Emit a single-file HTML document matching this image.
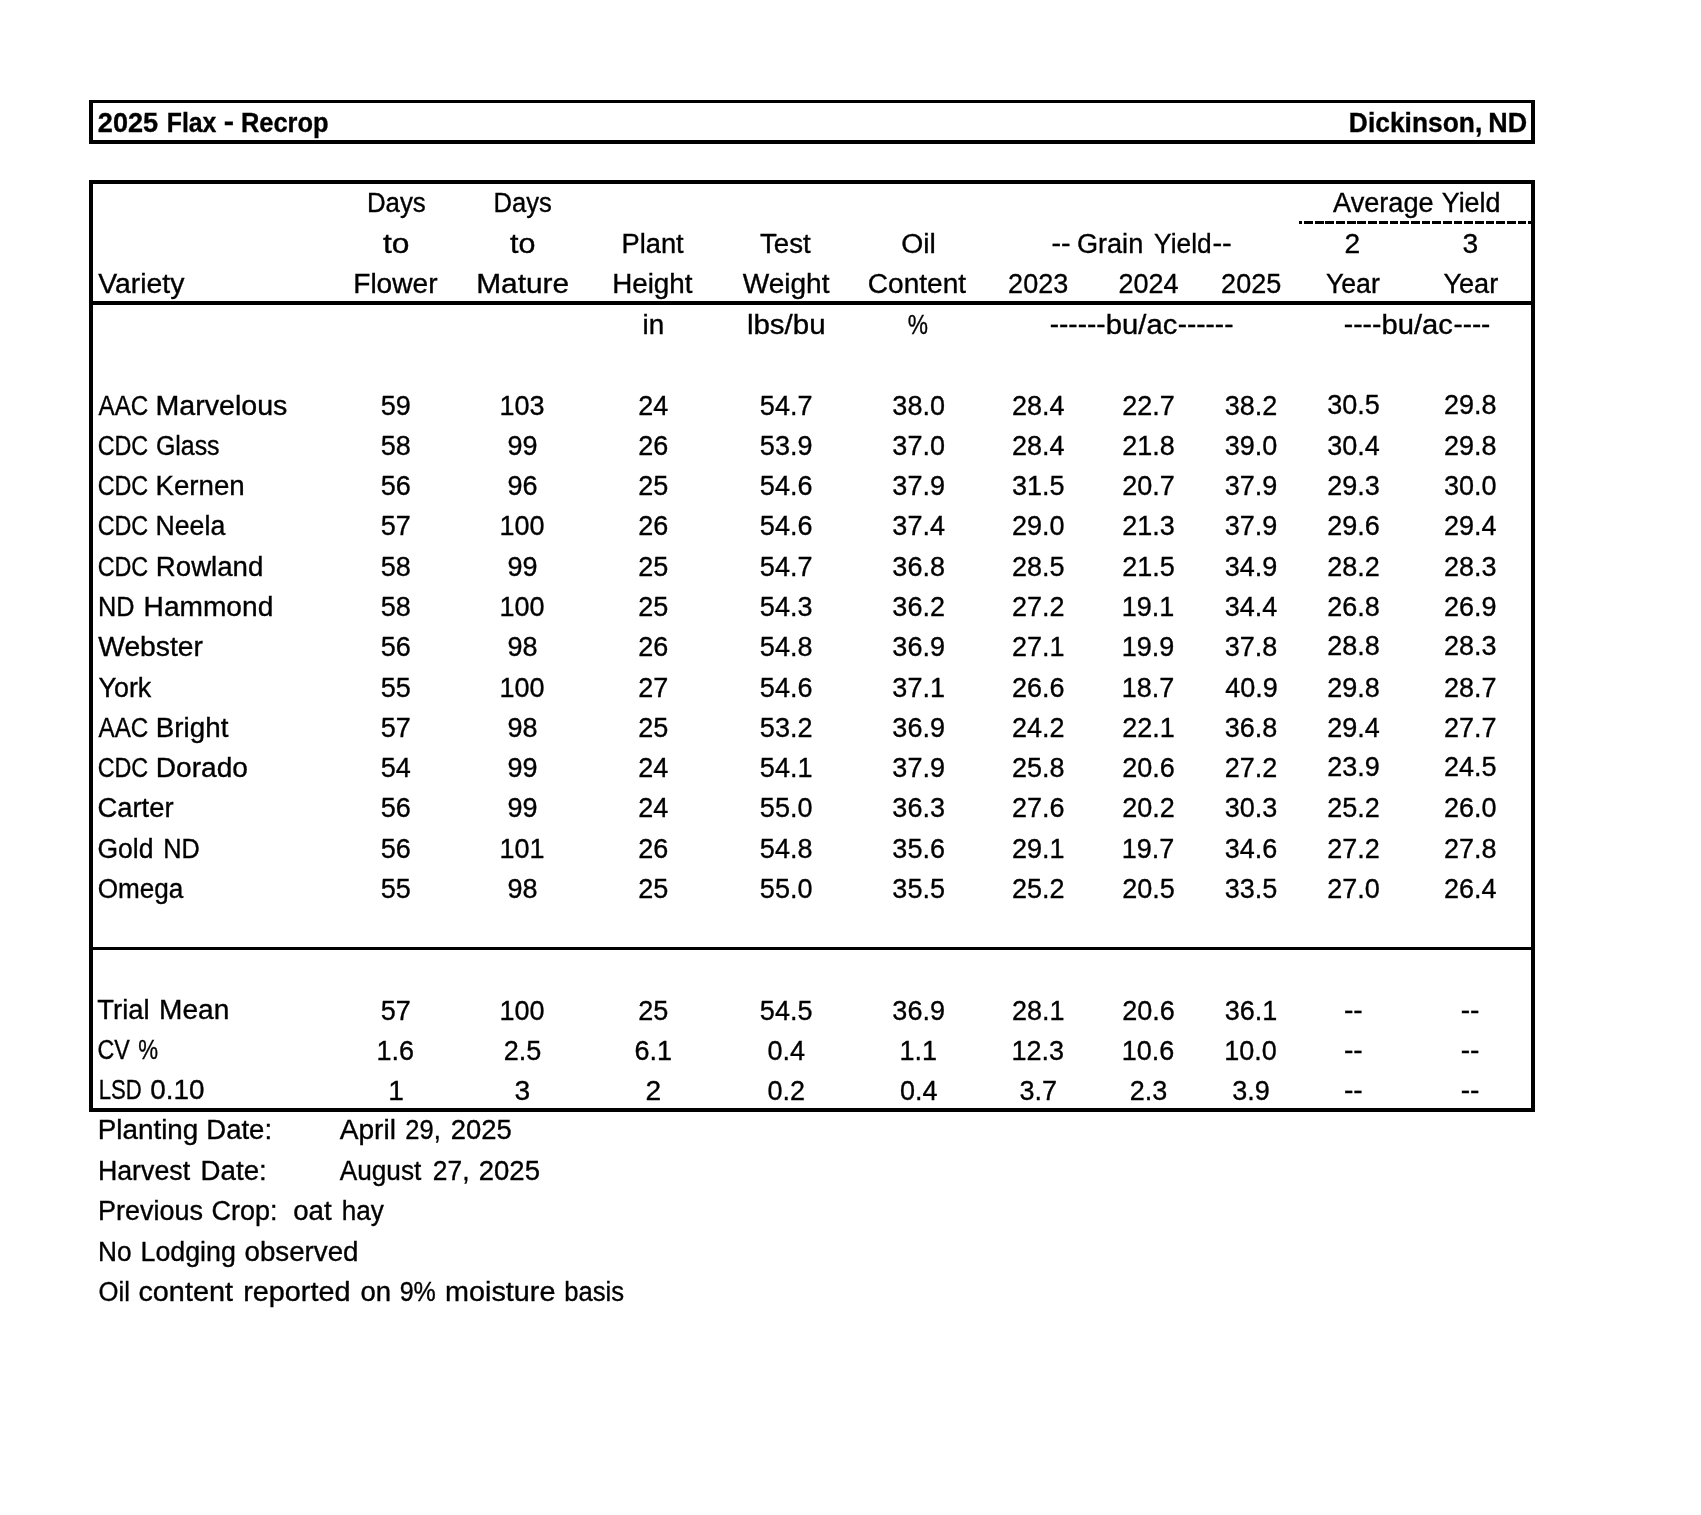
<!DOCTYPE html>
<html><head><meta charset="utf-8"><title>2025 Flax - Recrop</title>
<style>
html,body{margin:0;padding:0;background:#fff;}
body{width:1701px;height:1515px;position:relative;overflow:hidden;font-family:"Liberation Sans",sans-serif;color:#000;}
.t{position:absolute;white-space:pre;font-size:27px;line-height:40px;height:40px;transform-origin:0 0;-webkit-text-stroke:0.35px #000;}
.b{font-weight:bold;}
.r{position:absolute;background:#000;}
#w{position:absolute;left:0;top:0;width:1701px;height:1515px;filter:grayscale(1);}
</style></head><body><div id="w">
<div class="r" style="left:89px;top:100px;width:1446px;height:3.3px"></div>
<div class="r" style="left:89px;top:140px;width:1446px;height:3.7px"></div>
<div class="r" style="left:89px;top:100px;width:4.1px;height:43.7px"></div>
<div class="r" style="left:1531px;top:100px;width:4.1px;height:43.7px"></div>
<div class="r" style="left:89px;top:180.2px;width:1446px;height:4px"></div>
<div class="r" style="left:89px;top:1108px;width:1446px;height:3.9px"></div>
<div class="r" style="left:89px;top:180.2px;width:4.1px;height:931.7px"></div>
<div class="r" style="left:1531px;top:180.2px;width:4.1px;height:931.7px"></div>
<div class="r" style="left:89px;top:301px;width:1446px;height:3.8px"></div>
<div class="r" style="left:89px;top:947px;width:1446px;height:3px"></div>
<div style="position:absolute;left:1298.8px;top:221px;width:232.3px;height:3.1px;background:repeating-linear-gradient(90deg,#000 0,#000 3.2px,transparent 3.2px,transparent 5.1px,#000 5.1px,#000 10.68px)"></div>
<div class="t b" style="left:0;top:103.00px;transform:translateX(97.85px) scaleX(1.0042);">2025</div>
<div class="t b" style="left:0;top:103.00px;transform:translateX(166.73px) scaleX(0.9187);">Flax</div>
<div class="t b" style="left:0;top:102.00px;transform:translateX(223.76px) scaleX(1.1429);">-</div>
<div class="t b" style="left:0;top:103.00px;transform:translateX(240.91px) scaleX(0.9418);">Recrop</div>
<div class="t b" style="left:0;top:103.00px;transform:translateX(1348.87px) scaleX(0.9767);">Dickinson,</div>
<div class="t b" style="left:0;top:103.00px;transform:translateX(1488.36px) scaleX(0.9947);">ND</div>
<div class="t" style="left:0;top:183.00px;transform:translateX(366.89px) scaleX(0.9574);">Days</div>
<div class="t" style="left:0;top:183.00px;transform:translateX(493.51px) scaleX(0.9472);">Days</div>
<div class="t" style="left:0;top:183.00px;transform:translateX(1333.10px) scaleX(1.0044);">Average</div>
<div class="t" style="left:0;top:183.00px;transform:translateX(1441.70px) scaleX(0.9962);">Yield</div>
<div class="t" style="left:0;top:224.00px;transform:translateX(383.00px) scaleX(1.1767);">to</div>
<div class="t" style="left:0;top:224.00px;transform:translateX(510.00px) scaleX(1.1302);">to</div>
<div class="t" style="left:0;top:224.00px;transform:translateX(621.58px) scaleX(1.0093);">Plant</div>
<div class="t" style="left:0;top:224.00px;transform:translateX(760.00px) scaleX(1.0237);">Test</div>
<div class="t" style="left:0;top:224.00px;transform:translateX(901.25px) scaleX(1.0484);">Oil</div>
<div class="t" style="left:0;top:223.00px;transform:translateX(1051.44px) scaleX(1.0631);">--</div>
<div class="t" style="left:0;top:224.00px;transform:translateX(1076.90px) scaleX(1.0046);">Grain</div>
<div class="t" style="left:0;top:224.00px;transform:translateX(1154.10px) scaleX(0.9738);">Yield</div>
<div class="t" style="left:0;top:223.00px;transform:translateX(1212.42px) scaleX(1.0756);">--</div>
<div class="t" style="left:1344.60px;top:223.00px;font-size:28.2px;">2</div>
<div class="t" style="left:1462.60px;top:223.00px;font-size:28.2px;">3</div>
<div class="t" style="left:0;top:264.00px;transform:translateX(98.20px) scaleX(1.0505);">Variety</div>
<div class="t" style="left:0;top:264.00px;transform:translateX(353.22px) scaleX(1.0402);">Flower</div>
<div class="t" style="left:0;top:264.00px;transform:translateX(476.19px) scaleX(1.1060);">Mature</div>
<div class="t" style="left:0;top:264.00px;transform:translateX(612.14px) scaleX(1.0295);">Height</div>
<div class="t" style="left:0;top:264.00px;transform:translateX(742.80px) scaleX(1.0376);">Weight</div>
<div class="t" style="left:0;top:264.00px;transform:translateX(867.86px) scaleX(1.0386);">Content</div>
<div class="t" style="left:0;top:263.00px;transform:translateX(1008.11px) scaleX(0.9580);font-size:28.2px;">2023</div>
<div class="t" style="left:0;top:263.00px;transform:translateX(1118.41px) scaleX(0.9580);font-size:28.2px;">2024</div>
<div class="t" style="left:0;top:263.00px;transform:translateX(1221.11px) scaleX(0.9580);font-size:28.2px;">2025</div>
<div class="t" style="left:0;top:264.00px;transform:translateX(1325.90px) scaleX(0.9879);">Year</div>
<div class="t" style="left:0;top:264.00px;transform:translateX(1443.40px) scaleX(1.0044);">Year</div>
<div class="t" style="left:0;top:305.00px;transform:translateX(642.57px) scaleX(1.0317);">in</div>
<div class="t" style="left:0;top:305.00px;transform:translateX(746.91px) scaleX(1.0924);">lbs/bu</div>
<div class="t" style="left:0;top:305.00px;transform:translateX(907.80px) scaleX(0.8417);">%</div>
<div class="t" style="left:0;top:304.00px;transform:translateX(1049.77px) scaleX(1.0336);">------</div>
<div class="t" style="left:0;top:305.00px;transform:translateX(1105.82px) scaleX(1.0813);">bu/ac</div>
<div class="t" style="left:0;top:304.00px;transform:translateX(1177.77px) scaleX(1.0316);">------</div>
<div class="t" style="left:0;top:304.00px;transform:translateX(1343.76px) scaleX(1.0449);">----</div>
<div class="t" style="left:0;top:305.00px;transform:translateX(1381.52px) scaleX(1.0813);">bu/ac</div>
<div class="t" style="left:0;top:304.00px;transform:translateX(1453.48px) scaleX(1.0243);">----</div>
<div class="t" style="left:0;top:386.00px;transform:translateX(98.50px) scaleX(0.8961);">AAC</div>
<div class="t" style="left:0;top:386.00px;transform:translateX(155.48px) scaleX(1.0594);">Marvelous</div>
<div class="t" style="left:0;top:385.00px;transform:translateX(380.73px) scaleX(0.9580);font-size:28.2px;">59</div>
<div class="t" style="left:0;top:385.00px;transform:translateX(499.44px) scaleX(0.9580);font-size:28.2px;">103</div>
<div class="t" style="left:0;top:385.00px;transform:translateX(638.33px) scaleX(0.9580);font-size:28.2px;">24</div>
<div class="t" style="left:0;top:385.00px;transform:translateX(759.87px) scaleX(0.9580);font-size:28.2px;">54.7</div>
<div class="t" style="left:0;top:385.00px;transform:translateX(892.37px) scaleX(0.9580);font-size:28.2px;">38.0</div>
<div class="t" style="left:0;top:385.00px;transform:translateX(1011.97px) scaleX(0.9580);font-size:28.2px;">28.4</div>
<div class="t" style="left:0;top:385.00px;transform:translateX(1122.17px) scaleX(0.9580);font-size:28.2px;">22.7</div>
<div class="t" style="left:0;top:385.00px;transform:translateX(1224.77px) scaleX(0.9580);font-size:28.2px;">38.2</div>
<div class="t" style="left:0;top:384.00px;transform:translateX(1327.17px) scaleX(0.9580);font-size:28.2px;">30.5</div>
<div class="t" style="left:0;top:384.00px;transform:translateX(1443.97px) scaleX(0.9580);font-size:28.2px;">29.8</div>
<div class="t" style="left:0;top:426.00px;transform:translateX(97.64px) scaleX(0.8650);">CDC</div>
<div class="t" style="left:0;top:426.00px;transform:translateX(155.88px) scaleX(0.9227);">Glass</div>
<div class="t" style="left:0;top:425.00px;transform:translateX(380.73px) scaleX(0.9580);font-size:28.2px;">58</div>
<div class="t" style="left:0;top:425.00px;transform:translateX(507.43px) scaleX(0.9580);font-size:28.2px;">99</div>
<div class="t" style="left:0;top:425.00px;transform:translateX(638.33px) scaleX(0.9580);font-size:28.2px;">26</div>
<div class="t" style="left:0;top:425.00px;transform:translateX(759.87px) scaleX(0.9580);font-size:28.2px;">53.9</div>
<div class="t" style="left:0;top:425.00px;transform:translateX(892.37px) scaleX(0.9580);font-size:28.2px;">37.0</div>
<div class="t" style="left:0;top:425.00px;transform:translateX(1011.97px) scaleX(0.9580);font-size:28.2px;">28.4</div>
<div class="t" style="left:0;top:425.00px;transform:translateX(1122.17px) scaleX(0.9580);font-size:28.2px;">21.8</div>
<div class="t" style="left:0;top:425.00px;transform:translateX(1224.77px) scaleX(0.9580);font-size:28.2px;">39.0</div>
<div class="t" style="left:0;top:425.00px;transform:translateX(1327.17px) scaleX(0.9580);font-size:28.2px;">30.4</div>
<div class="t" style="left:0;top:425.00px;transform:translateX(1443.97px) scaleX(0.9580);font-size:28.2px;">29.8</div>
<div class="t" style="left:0;top:466.00px;transform:translateX(97.64px) scaleX(0.8650);">CDC</div>
<div class="t" style="left:0;top:466.00px;transform:translateX(155.45px) scaleX(1.0256);">Kernen</div>
<div class="t" style="left:0;top:465.00px;transform:translateX(380.73px) scaleX(0.9580);font-size:28.2px;">56</div>
<div class="t" style="left:0;top:465.00px;transform:translateX(507.43px) scaleX(0.9580);font-size:28.2px;">96</div>
<div class="t" style="left:0;top:465.00px;transform:translateX(638.33px) scaleX(0.9580);font-size:28.2px;">25</div>
<div class="t" style="left:0;top:465.00px;transform:translateX(759.87px) scaleX(0.9580);font-size:28.2px;">54.6</div>
<div class="t" style="left:0;top:465.00px;transform:translateX(892.37px) scaleX(0.9580);font-size:28.2px;">37.9</div>
<div class="t" style="left:0;top:465.00px;transform:translateX(1011.97px) scaleX(0.9580);font-size:28.2px;">31.5</div>
<div class="t" style="left:0;top:465.00px;transform:translateX(1122.17px) scaleX(0.9580);font-size:28.2px;">20.7</div>
<div class="t" style="left:0;top:465.00px;transform:translateX(1224.77px) scaleX(0.9580);font-size:28.2px;">37.9</div>
<div class="t" style="left:0;top:465.00px;transform:translateX(1327.17px) scaleX(0.9580);font-size:28.2px;">29.3</div>
<div class="t" style="left:0;top:465.00px;transform:translateX(1443.97px) scaleX(0.9580);font-size:28.2px;">30.0</div>
<div class="t" style="left:0;top:506.00px;transform:translateX(97.64px) scaleX(0.8650);">CDC</div>
<div class="t" style="left:0;top:506.00px;transform:translateX(155.52px) scaleX(0.9881);">Neela</div>
<div class="t" style="left:0;top:505.00px;transform:translateX(380.73px) scaleX(0.9580);font-size:28.2px;">57</div>
<div class="t" style="left:0;top:505.00px;transform:translateX(499.44px) scaleX(0.9580);font-size:28.2px;">100</div>
<div class="t" style="left:0;top:505.00px;transform:translateX(638.33px) scaleX(0.9580);font-size:28.2px;">26</div>
<div class="t" style="left:0;top:505.00px;transform:translateX(759.87px) scaleX(0.9580);font-size:28.2px;">54.6</div>
<div class="t" style="left:0;top:505.00px;transform:translateX(892.37px) scaleX(0.9580);font-size:28.2px;">37.4</div>
<div class="t" style="left:0;top:505.00px;transform:translateX(1011.97px) scaleX(0.9580);font-size:28.2px;">29.0</div>
<div class="t" style="left:0;top:505.00px;transform:translateX(1122.17px) scaleX(0.9580);font-size:28.2px;">21.3</div>
<div class="t" style="left:0;top:505.00px;transform:translateX(1224.77px) scaleX(0.9580);font-size:28.2px;">37.9</div>
<div class="t" style="left:0;top:505.00px;transform:translateX(1327.17px) scaleX(0.9580);font-size:28.2px;">29.6</div>
<div class="t" style="left:0;top:505.00px;transform:translateX(1443.97px) scaleX(0.9580);font-size:28.2px;">29.4</div>
<div class="t" style="left:0;top:547.00px;transform:translateX(97.64px) scaleX(0.8650);">CDC</div>
<div class="t" style="left:0;top:547.00px;transform:translateX(155.86px) scaleX(1.0221);">Rowland</div>
<div class="t" style="left:0;top:546.00px;transform:translateX(380.73px) scaleX(0.9580);font-size:28.2px;">58</div>
<div class="t" style="left:0;top:546.00px;transform:translateX(507.43px) scaleX(0.9580);font-size:28.2px;">99</div>
<div class="t" style="left:0;top:546.00px;transform:translateX(638.33px) scaleX(0.9580);font-size:28.2px;">25</div>
<div class="t" style="left:0;top:546.00px;transform:translateX(759.87px) scaleX(0.9580);font-size:28.2px;">54.7</div>
<div class="t" style="left:0;top:546.00px;transform:translateX(892.37px) scaleX(0.9580);font-size:28.2px;">36.8</div>
<div class="t" style="left:0;top:546.00px;transform:translateX(1011.97px) scaleX(0.9580);font-size:28.2px;">28.5</div>
<div class="t" style="left:0;top:546.00px;transform:translateX(1122.17px) scaleX(0.9580);font-size:28.2px;">21.5</div>
<div class="t" style="left:0;top:546.00px;transform:translateX(1224.77px) scaleX(0.9580);font-size:28.2px;">34.9</div>
<div class="t" style="left:0;top:546.00px;transform:translateX(1327.17px) scaleX(0.9580);font-size:28.2px;">28.2</div>
<div class="t" style="left:0;top:546.00px;transform:translateX(1443.97px) scaleX(0.9580);font-size:28.2px;">28.3</div>
<div class="t" style="left:0;top:587.00px;transform:translateX(98.03px) scaleX(0.9370);">ND</div>
<div class="t" style="left:0;top:587.00px;transform:translateX(143.62px) scaleX(1.0409);">Hammond</div>
<div class="t" style="left:0;top:586.00px;transform:translateX(380.73px) scaleX(0.9580);font-size:28.2px;">58</div>
<div class="t" style="left:0;top:586.00px;transform:translateX(499.44px) scaleX(0.9580);font-size:28.2px;">100</div>
<div class="t" style="left:0;top:586.00px;transform:translateX(638.33px) scaleX(0.9580);font-size:28.2px;">25</div>
<div class="t" style="left:0;top:586.00px;transform:translateX(759.87px) scaleX(0.9580);font-size:28.2px;">54.3</div>
<div class="t" style="left:0;top:586.00px;transform:translateX(892.37px) scaleX(0.9580);font-size:28.2px;">36.2</div>
<div class="t" style="left:0;top:586.00px;transform:translateX(1011.97px) scaleX(0.9580);font-size:28.2px;">27.2</div>
<div class="t" style="left:0;top:586.00px;transform:translateX(1121.69px) scaleX(0.9580);font-size:28.2px;">19.1</div>
<div class="t" style="left:0;top:586.00px;transform:translateX(1224.77px) scaleX(0.9580);font-size:28.2px;">34.4</div>
<div class="t" style="left:0;top:586.00px;transform:translateX(1327.17px) scaleX(0.9580);font-size:28.2px;">26.8</div>
<div class="t" style="left:0;top:586.00px;transform:translateX(1443.97px) scaleX(0.9580);font-size:28.2px;">26.9</div>
<div class="t" style="left:0;top:627.00px;transform:translateX(98.20px) scaleX(1.0475);">Webster</div>
<div class="t" style="left:0;top:626.00px;transform:translateX(380.73px) scaleX(0.9580);font-size:28.2px;">56</div>
<div class="t" style="left:0;top:626.00px;transform:translateX(507.43px) scaleX(0.9580);font-size:28.2px;">98</div>
<div class="t" style="left:0;top:626.00px;transform:translateX(638.33px) scaleX(0.9580);font-size:28.2px;">26</div>
<div class="t" style="left:0;top:626.00px;transform:translateX(759.87px) scaleX(0.9580);font-size:28.2px;">54.8</div>
<div class="t" style="left:0;top:626.00px;transform:translateX(892.37px) scaleX(0.9580);font-size:28.2px;">36.9</div>
<div class="t" style="left:0;top:626.00px;transform:translateX(1011.97px) scaleX(0.9580);font-size:28.2px;">27.1</div>
<div class="t" style="left:0;top:626.00px;transform:translateX(1121.69px) scaleX(0.9580);font-size:28.2px;">19.9</div>
<div class="t" style="left:0;top:626.00px;transform:translateX(1224.77px) scaleX(0.9580);font-size:28.2px;">37.8</div>
<div class="t" style="left:0;top:625.00px;transform:translateX(1327.17px) scaleX(0.9580);font-size:28.2px;">28.8</div>
<div class="t" style="left:0;top:625.00px;transform:translateX(1443.97px) scaleX(0.9580);font-size:28.2px;">28.3</div>
<div class="t" style="left:0;top:668.00px;transform:translateX(98.50px) scaleX(0.9956);">York</div>
<div class="t" style="left:0;top:667.00px;transform:translateX(380.73px) scaleX(0.9580);font-size:28.2px;">55</div>
<div class="t" style="left:0;top:667.00px;transform:translateX(499.44px) scaleX(0.9580);font-size:28.2px;">100</div>
<div class="t" style="left:0;top:667.00px;transform:translateX(638.33px) scaleX(0.9580);font-size:28.2px;">27</div>
<div class="t" style="left:0;top:667.00px;transform:translateX(759.87px) scaleX(0.9580);font-size:28.2px;">54.6</div>
<div class="t" style="left:0;top:667.00px;transform:translateX(892.37px) scaleX(0.9580);font-size:28.2px;">37.1</div>
<div class="t" style="left:0;top:667.00px;transform:translateX(1011.97px) scaleX(0.9580);font-size:28.2px;">26.6</div>
<div class="t" style="left:0;top:667.00px;transform:translateX(1121.69px) scaleX(0.9580);font-size:28.2px;">18.7</div>
<div class="t" style="left:0;top:667.00px;transform:translateX(1225.25px) scaleX(0.9580);font-size:28.2px;">40.9</div>
<div class="t" style="left:0;top:667.00px;transform:translateX(1327.17px) scaleX(0.9580);font-size:28.2px;">29.8</div>
<div class="t" style="left:0;top:667.00px;transform:translateX(1443.97px) scaleX(0.9580);font-size:28.2px;">28.7</div>
<div class="t" style="left:0;top:708.00px;transform:translateX(98.50px) scaleX(0.8961);">AAC</div>
<div class="t" style="left:0;top:708.00px;transform:translateX(155.84px) scaleX(1.0285);">Bright</div>
<div class="t" style="left:0;top:707.00px;transform:translateX(380.73px) scaleX(0.9580);font-size:28.2px;">57</div>
<div class="t" style="left:0;top:707.00px;transform:translateX(507.43px) scaleX(0.9580);font-size:28.2px;">98</div>
<div class="t" style="left:0;top:707.00px;transform:translateX(638.33px) scaleX(0.9580);font-size:28.2px;">25</div>
<div class="t" style="left:0;top:707.00px;transform:translateX(759.87px) scaleX(0.9580);font-size:28.2px;">53.2</div>
<div class="t" style="left:0;top:707.00px;transform:translateX(892.37px) scaleX(0.9580);font-size:28.2px;">36.9</div>
<div class="t" style="left:0;top:707.00px;transform:translateX(1011.97px) scaleX(0.9580);font-size:28.2px;">24.2</div>
<div class="t" style="left:0;top:707.00px;transform:translateX(1122.17px) scaleX(0.9580);font-size:28.2px;">22.1</div>
<div class="t" style="left:0;top:707.00px;transform:translateX(1224.77px) scaleX(0.9580);font-size:28.2px;">36.8</div>
<div class="t" style="left:0;top:707.00px;transform:translateX(1327.17px) scaleX(0.9580);font-size:28.2px;">29.4</div>
<div class="t" style="left:0;top:707.00px;transform:translateX(1443.97px) scaleX(0.9580);font-size:28.2px;">27.7</div>
<div class="t" style="left:0;top:748.00px;transform:translateX(97.64px) scaleX(0.8650);">CDC</div>
<div class="t" style="left:0;top:748.00px;transform:translateX(155.82px) scaleX(1.0393);">Dorado</div>
<div class="t" style="left:0;top:747.00px;transform:translateX(380.73px) scaleX(0.9580);font-size:28.2px;">54</div>
<div class="t" style="left:0;top:747.00px;transform:translateX(507.43px) scaleX(0.9580);font-size:28.2px;">99</div>
<div class="t" style="left:0;top:747.00px;transform:translateX(638.33px) scaleX(0.9580);font-size:28.2px;">24</div>
<div class="t" style="left:0;top:747.00px;transform:translateX(759.87px) scaleX(0.9580);font-size:28.2px;">54.1</div>
<div class="t" style="left:0;top:747.00px;transform:translateX(892.37px) scaleX(0.9580);font-size:28.2px;">37.9</div>
<div class="t" style="left:0;top:747.00px;transform:translateX(1011.97px) scaleX(0.9580);font-size:28.2px;">25.8</div>
<div class="t" style="left:0;top:747.00px;transform:translateX(1122.17px) scaleX(0.9580);font-size:28.2px;">20.6</div>
<div class="t" style="left:0;top:747.00px;transform:translateX(1224.77px) scaleX(0.9580);font-size:28.2px;">27.2</div>
<div class="t" style="left:0;top:746.00px;transform:translateX(1327.17px) scaleX(0.9580);font-size:28.2px;">23.9</div>
<div class="t" style="left:0;top:746.00px;transform:translateX(1443.97px) scaleX(0.9580);font-size:28.2px;">24.5</div>
<div class="t" style="left:0;top:788.00px;transform:translateX(97.49px) scaleX(1.0132);">Carter</div>
<div class="t" style="left:0;top:787.00px;transform:translateX(380.73px) scaleX(0.9580);font-size:28.2px;">56</div>
<div class="t" style="left:0;top:787.00px;transform:translateX(507.43px) scaleX(0.9580);font-size:28.2px;">99</div>
<div class="t" style="left:0;top:787.00px;transform:translateX(638.33px) scaleX(0.9580);font-size:28.2px;">24</div>
<div class="t" style="left:0;top:787.00px;transform:translateX(759.87px) scaleX(0.9580);font-size:28.2px;">55.0</div>
<div class="t" style="left:0;top:787.00px;transform:translateX(892.37px) scaleX(0.9580);font-size:28.2px;">36.3</div>
<div class="t" style="left:0;top:787.00px;transform:translateX(1011.97px) scaleX(0.9580);font-size:28.2px;">27.6</div>
<div class="t" style="left:0;top:787.00px;transform:translateX(1122.17px) scaleX(0.9580);font-size:28.2px;">20.2</div>
<div class="t" style="left:0;top:787.00px;transform:translateX(1224.77px) scaleX(0.9580);font-size:28.2px;">30.3</div>
<div class="t" style="left:0;top:787.00px;transform:translateX(1327.17px) scaleX(0.9580);font-size:28.2px;">25.2</div>
<div class="t" style="left:0;top:787.00px;transform:translateX(1443.97px) scaleX(0.9580);font-size:28.2px;">26.0</div>
<div class="t" style="left:0;top:829.00px;transform:translateX(97.52px) scaleX(0.9797);">Gold</div>
<div class="t" style="left:0;top:829.00px;transform:translateX(163.23px) scaleX(0.9370);">ND</div>
<div class="t" style="left:0;top:828.00px;transform:translateX(380.73px) scaleX(0.9580);font-size:28.2px;">56</div>
<div class="t" style="left:0;top:828.00px;transform:translateX(499.44px) scaleX(0.9580);font-size:28.2px;">101</div>
<div class="t" style="left:0;top:828.00px;transform:translateX(638.33px) scaleX(0.9580);font-size:28.2px;">26</div>
<div class="t" style="left:0;top:828.00px;transform:translateX(759.87px) scaleX(0.9580);font-size:28.2px;">54.8</div>
<div class="t" style="left:0;top:828.00px;transform:translateX(892.37px) scaleX(0.9580);font-size:28.2px;">35.6</div>
<div class="t" style="left:0;top:828.00px;transform:translateX(1011.97px) scaleX(0.9580);font-size:28.2px;">29.1</div>
<div class="t" style="left:0;top:828.00px;transform:translateX(1121.69px) scaleX(0.9580);font-size:28.2px;">19.7</div>
<div class="t" style="left:0;top:828.00px;transform:translateX(1224.77px) scaleX(0.9580);font-size:28.2px;">34.6</div>
<div class="t" style="left:0;top:828.00px;transform:translateX(1327.17px) scaleX(0.9580);font-size:28.2px;">27.2</div>
<div class="t" style="left:0;top:828.00px;transform:translateX(1443.97px) scaleX(0.9580);font-size:28.2px;">27.8</div>
<div class="t" style="left:0;top:869.00px;transform:translateX(97.63px) scaleX(0.9681);">Omega</div>
<div class="t" style="left:0;top:868.00px;transform:translateX(380.73px) scaleX(0.9580);font-size:28.2px;">55</div>
<div class="t" style="left:0;top:868.00px;transform:translateX(507.43px) scaleX(0.9580);font-size:28.2px;">98</div>
<div class="t" style="left:0;top:868.00px;transform:translateX(638.33px) scaleX(0.9580);font-size:28.2px;">25</div>
<div class="t" style="left:0;top:868.00px;transform:translateX(759.87px) scaleX(0.9580);font-size:28.2px;">55.0</div>
<div class="t" style="left:0;top:868.00px;transform:translateX(892.37px) scaleX(0.9580);font-size:28.2px;">35.5</div>
<div class="t" style="left:0;top:868.00px;transform:translateX(1011.97px) scaleX(0.9580);font-size:28.2px;">25.2</div>
<div class="t" style="left:0;top:868.00px;transform:translateX(1122.17px) scaleX(0.9580);font-size:28.2px;">20.5</div>
<div class="t" style="left:0;top:868.00px;transform:translateX(1224.77px) scaleX(0.9580);font-size:28.2px;">33.5</div>
<div class="t" style="left:0;top:868.00px;transform:translateX(1327.17px) scaleX(0.9580);font-size:28.2px;">27.0</div>
<div class="t" style="left:0;top:868.00px;transform:translateX(1443.97px) scaleX(0.9580);font-size:28.2px;">26.4</div>
<div class="t" style="left:0;top:990.00px;transform:translateX(97.30px) scaleX(1.0159);">Trial</div>
<div class="t" style="left:0;top:990.00px;transform:translateX(159.12px) scaleX(1.0399);">Mean</div>
<div class="t" style="left:0;top:990.00px;transform:translateX(380.73px) scaleX(0.9580);font-size:28.2px;">57</div>
<div class="t" style="left:0;top:990.00px;transform:translateX(499.44px) scaleX(0.9580);font-size:28.2px;">100</div>
<div class="t" style="left:0;top:990.00px;transform:translateX(638.33px) scaleX(0.9580);font-size:28.2px;">25</div>
<div class="t" style="left:0;top:990.00px;transform:translateX(759.87px) scaleX(0.9580);font-size:28.2px;">54.5</div>
<div class="t" style="left:0;top:990.00px;transform:translateX(892.37px) scaleX(0.9580);font-size:28.2px;">36.9</div>
<div class="t" style="left:0;top:990.00px;transform:translateX(1011.97px) scaleX(0.9580);font-size:28.2px;">28.1</div>
<div class="t" style="left:0;top:990.00px;transform:translateX(1122.17px) scaleX(0.9580);font-size:28.2px;">20.6</div>
<div class="t" style="left:0;top:990.00px;transform:translateX(1224.77px) scaleX(0.9580);font-size:28.2px;">36.1</div>
<div class="t" style="left:1343.91px;top:989.00px;font-size:28.2px;">--</div>
<div class="t" style="left:1460.71px;top:989.00px;font-size:28.2px;">--</div>
<div class="t" style="left:0;top:1030.00px;transform:translateX(97.44px) scaleX(0.8603);">CV</div>
<div class="t" style="left:0;top:1030.00px;transform:translateX(138.30px) scaleX(0.8250);">%</div>
<div class="t" style="left:0;top:1030.00px;transform:translateX(376.50px) scaleX(0.9580);font-size:28.2px;">1.6</div>
<div class="t" style="left:0;top:1030.00px;transform:translateX(503.68px) scaleX(0.9580);font-size:28.2px;">2.5</div>
<div class="t" style="left:0;top:1030.00px;transform:translateX(634.58px) scaleX(0.9580);font-size:28.2px;">6.1</div>
<div class="t" style="left:0;top:1030.00px;transform:translateX(767.38px) scaleX(0.9580);font-size:28.2px;">0.4</div>
<div class="t" style="left:0;top:1030.00px;transform:translateX(899.40px) scaleX(0.9580);font-size:28.2px;">1.1</div>
<div class="t" style="left:0;top:1030.00px;transform:translateX(1011.49px) scaleX(0.9580);font-size:28.2px;">12.3</div>
<div class="t" style="left:0;top:1030.00px;transform:translateX(1121.69px) scaleX(0.9580);font-size:28.2px;">10.6</div>
<div class="t" style="left:0;top:1030.00px;transform:translateX(1224.29px) scaleX(0.9580);font-size:28.2px;">10.0</div>
<div class="t" style="left:1343.91px;top:1029.00px;font-size:28.2px;">--</div>
<div class="t" style="left:1460.71px;top:1029.00px;font-size:28.2px;">--</div>
<div class="t" style="left:0;top:1070.00px;transform:translateX(98.66px) scaleX(0.8196);">LSD</div>
<div class="t" style="left:0;top:1070.00px;transform:translateX(150.37px) scaleX(1.0310);">0.10</div>
<div class="t" style="left:388.30px;top:1070.00px;font-size:28.2px;">1</div>
<div class="t" style="left:514.60px;top:1070.00px;font-size:28.2px;">3</div>
<div class="t" style="left:645.50px;top:1070.00px;font-size:28.2px;">2</div>
<div class="t" style="left:0;top:1070.00px;transform:translateX(767.38px) scaleX(0.9580);font-size:28.2px;">0.2</div>
<div class="t" style="left:0;top:1070.00px;transform:translateX(899.88px) scaleX(0.9580);font-size:28.2px;">0.4</div>
<div class="t" style="left:0;top:1070.00px;transform:translateX(1019.48px) scaleX(0.9580);font-size:28.2px;">3.7</div>
<div class="t" style="left:0;top:1070.00px;transform:translateX(1129.68px) scaleX(0.9580);font-size:28.2px;">2.3</div>
<div class="t" style="left:0;top:1070.00px;transform:translateX(1232.28px) scaleX(0.9580);font-size:28.2px;">3.9</div>
<div class="t" style="left:1343.91px;top:1069.00px;font-size:28.2px;">--</div>
<div class="t" style="left:1460.71px;top:1069.00px;font-size:28.2px;">--</div>
<div class="t" style="left:0;top:1110.00px;transform:translateX(97.84px) scaleX(1.0290);">Planting</div>
<div class="t" style="left:0;top:1110.00px;transform:translateX(206.26px) scaleX(1.0191);">Date:</div>
<div class="t" style="left:0;top:1110.00px;transform:translateX(339.70px) scaleX(1.0412);">April</div>
<div class="t" style="left:0;top:1110.00px;transform:translateX(405.36px) scaleX(0.9448);">29,</div>
<div class="t" style="left:0;top:1110.00px;transform:translateX(450.79px) scaleX(1.0147);">2025</div>
<div class="t" style="left:0;top:1151.00px;transform:translateX(97.92px) scaleX(0.9910);">Harvest</div>
<div class="t" style="left:0;top:1151.00px;transform:translateX(200.55px) scaleX(1.0257);">Date:</div>
<div class="t" style="left:0;top:1151.00px;transform:translateX(339.70px) scaleX(0.9709);">August</div>
<div class="t" style="left:0;top:1151.00px;transform:translateX(432.82px) scaleX(0.9762);">27,</div>
<div class="t" style="left:0;top:1151.00px;transform:translateX(478.78px) scaleX(1.0181);">2025</div>
<div class="t" style="left:97.90px;top:1191.00px;">Previous</div>
<div class="t" style="left:211.50px;top:1191.00px;">Crop:</div>
<div class="t" style="left:0;top:1191.00px;transform:translateX(293.18px) scaleX(1.0234);">oat</div>
<div class="t" style="left:0;top:1191.00px;transform:translateX(341.83px) scaleX(0.9667);">hay</div>
<div class="t" style="left:0;top:1232.00px;transform:translateX(97.96px) scaleX(0.9715);">No</div>
<div class="t" style="left:0;top:1232.00px;transform:translateX(140.52px) scaleX(0.9916);">Lodging</div>
<div class="t" style="left:0;top:1232.00px;transform:translateX(244.47px) scaleX(1.0270);">observed</div>
<div class="t" style="left:0;top:1272.00px;transform:translateX(98.45px) scaleX(0.9516);">Oil</div>
<div class="t" style="left:0;top:1272.00px;transform:translateX(138.43px) scaleX(1.0674);">content</div>
<div class="t" style="left:0;top:1272.00px;transform:translateX(243.13px) scaleX(1.0675);">reported</div>
<div class="t" style="left:0;top:1272.00px;transform:translateX(360.48px) scaleX(1.0208);">on</div>
<div class="t" style="left:0;top:1272.00px;transform:translateX(399.67px) scaleX(0.9259);">9%</div>
<div class="t" style="left:0;top:1272.00px;transform:translateX(445.03px) scaleX(1.0659);">moisture</div>
<div class="t" style="left:0;top:1272.00px;transform:translateX(564.15px) scaleX(0.9491);">basis</div>
</div></body></html>
